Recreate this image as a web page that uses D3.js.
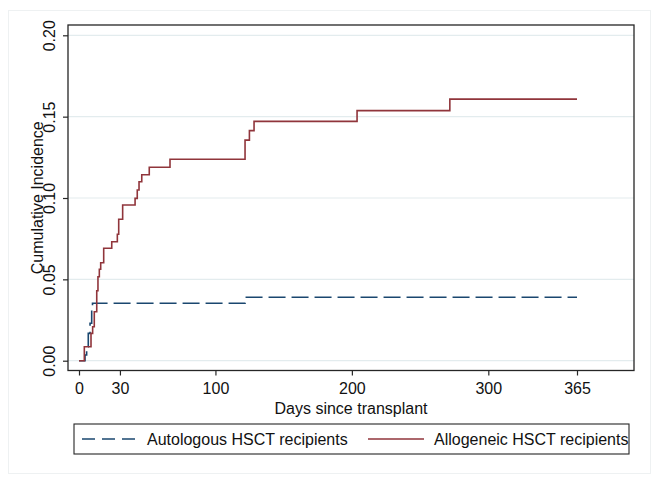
<!DOCTYPE html>
<html>
<head>
<meta charset="utf-8">
<script src="https://cdn.jsdelivr.net/npm/d3@7"></script>
<style>
  html, body { margin: 0; padding: 0; background: #ffffff; }
  svg { display: block; font-family: "Liberation Sans", Arial, Helvetica, sans-serif; }
</style>
</head>
<body>
<svg id="chart" width="660" height="485"></svg>
<script>
// ---- Data ----
const seriesNames = ["Autologous HSCT recipients", "Allogeneic HSCT recipients"];

// Autologous: step times (days) and cumulative incidence
const autoDays = [0, 4.4, 5.6, 6.8, 8.1, 9.3, 9.9, 121.7, 365];
const autoCI   = [0, 0.0035, 0.0086, 0.0168, 0.0230, 0.0322, 0.0353, 0.0390, 0.0390];

// Allogeneic: step times (days) and cumulative incidence
const alloDays = [0, 3.9, 8.8, 10.0, 11.2, 13.0, 13.9, 14.9, 15.9, 18.1, 24.0, 28.1, 29.1, 32.0,
                  41.1, 42.7, 44.0, 46.0, 51.5, 66.7, 121.7, 124.9, 128.3, 203.8, 271.8, 365];
const alloCI   = [0, 0.0086, 0.0168, 0.0209, 0.0301, 0.0430, 0.0516, 0.0562, 0.0602, 0.0691, 0.0731, 0.0777, 0.0869, 0.0957,
                  0.0998, 0.1049, 0.1100, 0.1143, 0.1189, 0.1238, 0.1356, 0.1414, 0.1471, 0.1537, 0.1608, 0.1608];

const xTicks = [0, 30, 100, 200, 300, 365];
const yTicks = [0, 0.05, 0.10, 0.15, 0.20];
const xTitle = "Days since transplant";
const yTitle = "Cumulative Incidence";

// ---- Layout ----
const svg = d3.select("#chart");
const frame = { left: 68, right: 634, top: 25, bottom: 370.5 };
const x = d3.scaleLinear().domain([0, 365]).range([79, 577]);
const y = d3.scaleLinear().domain([0, 0.20]).range([360.7, 35.3]);
const font = "16px";
const axisColor = "#262626";
const blue = "#1a476f";
const red = "#90353b";

// outer graph region border
svg.append("rect")
  .attr("x", 8.5).attr("y", 10.5).attr("width", 642).attr("height", 463)
  .attr("fill", "#ffffff").attr("stroke", "#eef1f2").attr("stroke-width", 1);

// gridlines
svg.append("g").selectAll("line").data(yTicks).join("line")
  .attr("x1", frame.left).attr("x2", frame.right)
  .attr("y1", d => y(d)).attr("y2", d => y(d))
  .attr("stroke", "#e3ecee").attr("stroke-width", 1.2);

// plot frame
svg.append("rect")
  .attr("x", frame.left).attr("y", frame.top)
  .attr("width", frame.right - frame.left).attr("height", frame.bottom - frame.top)
  .attr("fill", "none").attr("stroke", axisColor).attr("stroke-width", 1.3);

// y axis
const yAxis = svg.append("g")
  .attr("transform", `translate(${frame.left},0)`)
  .call(d3.axisLeft(y).tickValues(yTicks).tickFormat(d3.format(".2f")).tickSize(5).tickSizeOuter(0));
yAxis.select(".domain").remove();
yAxis.selectAll(".tick line").attr("stroke", axisColor).attr("stroke-width", 1.2);
yAxis.selectAll(".tick text")
  .attr("x", null).attr("dy", null)
  .attr("transform", "translate(-19,0) rotate(-90)")
  .attr("text-anchor", "middle")
  .attr("dominant-baseline", "central")
  .attr("fill", "#111").style("font-size", font)
  .style("font-family", '"Liberation Sans", Arial, sans-serif');

// x axis
const xAxis = svg.append("g")
  .attr("transform", `translate(0,${frame.bottom})`)
  .call(d3.axisBottom(x).tickValues(xTicks).tickFormat(d3.format("d")).tickSize(5).tickSizeOuter(0));
xAxis.select(".domain").remove();
xAxis.selectAll(".tick line").attr("stroke", axisColor).attr("stroke-width", 1.2);
xAxis.selectAll(".tick text")
  .attr("y", 17.5).attr("dy", null)
  .attr("dominant-baseline", "central")
  .attr("fill", "#111").style("font-size", font)
  .style("font-family", '"Liberation Sans", Arial, sans-serif');

// axis titles
svg.append("text")
  .attr("x", (x(0) + x(365)) / 2 + 23).attr("y", 408)
  .attr("text-anchor", "middle").attr("dominant-baseline", "central")
  .style("font-size", font).attr("fill", "#111").text(xTitle);
svg.append("text")
  .attr("transform", `translate(37,${(frame.top + frame.bottom) / 2}) rotate(-90)`)
  .attr("text-anchor", "middle").attr("dominant-baseline", "central")
  .style("font-size", font).attr("fill", "#111").text(yTitle);

// lines
const line = d3.line().curve(d3.curveStepAfter).x(d => x(d[0])).y(d => y(d[1]));
svg.append("path")
  .datum(autoDays.map((d, i) => [d, autoCI[i]]))
  .attr("d", line).attr("fill", "none")
  .attr("stroke", blue).attr("stroke-width", 1.6)
  .attr("stroke-dasharray", "17,6");
svg.append("path")
  .datum(alloDays.map((d, i) => [d, alloCI[i]]))
  .attr("d", line).attr("fill", "none")
  .attr("stroke", red).attr("stroke-width", 1.6);

// legend
const lg = svg.append("g");
lg.append("rect")
  .attr("x", 74).attr("y", 424).attr("width", 555).attr("height", 30)
  .attr("fill", "#ffffff").attr("stroke", axisColor).attr("stroke-width", 1.1);
const legendItems = [
  { name: seriesNames[0], color: blue, dash: "13,7", x0: 82, x1: 138, tx: 147 },
  { name: seriesNames[1], color: red, dash: null, x0: 368, x1: 424, tx: 434 }
];
legendItems.forEach(it => {
  lg.append("line")
    .attr("x1", it.x0).attr("x2", it.x1).attr("y1", 439).attr("y2", 439)
    .attr("stroke", it.color).attr("stroke-width", 1.6)
    .attr("stroke-dasharray", it.dash);
  lg.append("text")
    .attr("x", it.tx).attr("y", 439)
    .attr("dominant-baseline", "central")
    .style("font-size", font).attr("fill", "#111").text(it.name);
});
</script>
</body>
</html>
